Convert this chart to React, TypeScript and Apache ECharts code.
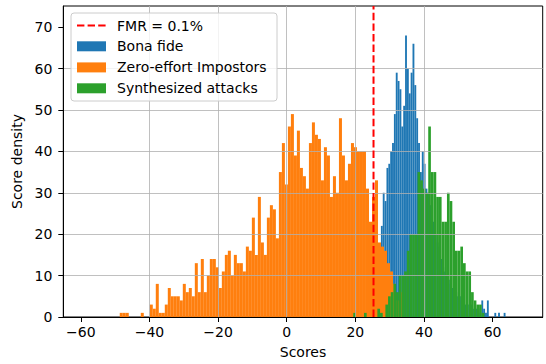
import React, { useEffect, useRef } from "react";
import * as echarts from "echarts";

const FONT = "DejaVu Sans";

// Axes
const xTickValues = [-60, -40, -20, 0, 20, 40, 60];
const yTickValues = [0, 10, 20, 30, 40, 50, 60, 70];
const xRange = [-65.1, 74.6];
const yRange = [0, 75.1];
const xName = "Scores";
const yName = "Score density";

// Threshold
const fmrLabel = "FMR = 0.1%";
const fmrThreshold = 25.3;

// Series
const seriesNames = ["Bona fide", "Zero-effort Impostors", "Synthesized attacks"];
const seriesColors = ["#1f77b4", "#ff7f0e", "#2ca02c"];

const bonaFideBinStart = 27.45;
const bonaFideBinWidth = 0.542;
const bonaFide = [
  22, 30, 28, 36, 37, 40, 42, 49, 59, 57,
  55, 46, 51, 68, 60, 54, 59, 66, 56, 48,
  42, 35, 40, 37, 31, 30, 27, 25, 23, 20,
  18, 17, 14, 12, 11, 10, 9, 8, 7, 7,
  6, 5, 5, 4, 4, 3, 3, 3, 3, 2,
  2, 2, 2, 1, 4, 2, 1, 4, 0, 0,
  0, 1, 0, 1, 0, 0, 1,
];

const impostorBinStart = -48.65;
const impostorBinWidth = 0.875;
const impostors = [
  1, 1, 1, 0, 0, 0, 0, 1, 0, 0,
  3, 2, 8, 1, 1, 3, 7, 5, 5, 5,
  4, 8, 6, 7, 5, 13, 6, 14, 6, 10,
  14, 14, 12, 7, 11, 15, 16, 10, 15, 13,
  13, 11, 17, 16, 24, 15, 29, 18, 15, 24,
  27, 26, 19, 35, 42, 32, 46, 49, 39, 45,
  36, 34, 31, 42, 47, 44, 43, 33, 41, 39,
  29, 34, 30, 48, 39, 33, 37, 42, 41, 40,
  40, 40, 31, 23, 29, 33, 18, 17, 16, 13,
  11, 8, 4, 6,
];

const synthBinStart = 19.4;
const synthBinWidth = 0.78;
const synthesized = [
  1, 0, 0, 0, 1, 0, 0, 0, 0, 2,
  1, 0, 3, 5, 6, 8, 6, 10, 10, 11,
  16, 20, 20, 20, 35, 33, 31, 30, 46, 35,
  35, 29, 29, 23, 23, 30, 28, 23, 16, 16,
  17, 13, 11, 11, 6, 4, 3, 3, 1,
];

function toBins(start: number, width: number, heights: number[]) {
  return heights.map((h, i) => [start + i * width, start + (i + 1) * width, h]);
}

const fmtTick = (v: number) => (v < 0 ? "\u2212" + Math.abs(v) : String(v));

export default function App() {
  const ref = useRef<HTMLDivElement>(null);

  useEffect(() => {
    if (!ref.current) return;
    const chart = echarts.init(ref.current, undefined, { renderer: "svg" });

    const histSeries = [
      toBins(bonaFideBinStart, bonaFideBinWidth, bonaFide),
      toBins(impostorBinStart, impostorBinWidth, impostors),
      toBins(synthBinStart, synthBinWidth, synthesized),
    ].map((data, idx) => ({
      type: "custom",
      name: seriesNames[idx],
      data,
      encode: { x: [0, 1], y: 2 },
      z: 2,
      silent: true,
      renderItem: (params: any, api: any) => {
        const a = api.coord([api.value(0), api.value(2)]);
        const b = api.coord([api.value(1), 0]);
        return {
          type: "rect",
          shape: { x: a[0], y: a[1], width: b[0] - a[0], height: b[1] - a[1] },
          style: { fill: seriesColors[idx] },
        };
      },
    }));

    const legendRows = [25.5, 46.3, 67.4, 88.3];
    const legendGraphics: any[] = [
      {
        type: "rect",
        z: 50,
        shape: { x: 71, y: 13, width: 206, height: 88, r: 3 },
        style: { fill: "rgba(255,255,255,0.8)", stroke: "#cccccc", lineWidth: 1 },
      },
      {
        type: "line",
        z: 51,
        shape: { x1: 77, y1: legendRows[0], x2: 106, y2: legendRows[0] },
        style: { stroke: "#ff0000", lineWidth: 2, lineDash: [7.4, 3.2] },
      },
      {
        type: "text",
        z: 51,
        x: 117,
        y: legendRows[0],
        style: { text: fmrLabel, fontSize: 14, fontFamily: FONT, fill: "#000", verticalAlign: "middle", align: "left" },
      },
    ];
    seriesNames.forEach((n, i) => {
      legendGraphics.push({
        type: "rect",
        z: 51,
        shape: { x: 77, y: legendRows[i + 1] - 5, width: 29, height: 10 },
        style: { fill: seriesColors[i] },
      });
      legendGraphics.push({
        type: "text",
        z: 51,
        x: 117,
        y: legendRows[i + 1],
        style: { text: n, fontSize: 14, fontFamily: FONT, fill: "#000", verticalAlign: "middle", align: "left" },
      });
    });

    const option: any = {
      animation: false,
      grid: {
        left: 63.3,
        right: 3.3,
        top: 6,
        bottom: 46.3,
        show: true,
        borderColor: "#000",
        borderWidth: 1,
        backgroundColor: "transparent",
      },
      xAxis: {
        type: "value",
        min: xRange[0],
        max: xRange[1],
        splitNumber: 7,
        minInterval: 20,
        maxInterval: 20,
        z: 3,
        name: xName,
        nameLocation: "middle",
        nameGap: 28,
        nameTextStyle: { fontSize: 14, fontFamily: FONT, color: "#000" },
        axisLine: { show: true, onZero: false, lineStyle: { color: "#000", width: 1 } },
        axisTick: { show: true, inside: false, length: 5, customValues: xTickValues, lineStyle: { color: "#000", width: 1 } },
        axisLabel: {
          customValues: xTickValues,
          formatter: fmtTick,
          fontSize: 14,
          fontFamily: FONT,
          color: "#000",
          margin: 8,
        },
        splitLine: { show: true, showMinLine: false, showMaxLine: false, lineStyle: { color: "#b0b0b0", width: 0.8 } },
      },
      yAxis: {
        type: "value",
        min: yRange[0],
        max: yRange[1],
        interval: 10,
        z: 3,
        name: yName,
        nameLocation: "middle",
        nameGap: 28,
        nameTextStyle: { fontSize: 14, fontFamily: FONT, color: "#000" },
        axisLine: { show: true, onZero: false, lineStyle: { color: "#000", width: 1 } },
        axisTick: { show: true, inside: false, length: 5, customValues: yTickValues, lineStyle: { color: "#000", width: 1 } },
        axisLabel: {
          customValues: yTickValues,
          fontSize: 14,
          fontFamily: FONT,
          color: "#000",
          margin: 11,
        },
        splitLine: { show: true, showMinLine: false, showMaxLine: false, lineStyle: { color: "#b0b0b0", width: 0.8 } },
      },
      series: [
        ...histSeries,
        {
          type: "line",
          name: fmrLabel,
          data: [
            [fmrThreshold, yRange[0]],
            [fmrThreshold, yRange[1]],
          ],
          symbol: "none",
          showSymbol: false,
          silent: true,
          z: 10,
          lineStyle: { color: "#ff0000", width: 2, type: [7.4, 3.2] },
        },
      ],
      graphic: legendGraphics,
    };

    chart.setOption(option);
    return () => chart.dispose();
  }, []);

  return (
    <div
      ref={ref}
      style={{ position: "fixed", left: 0, top: 0, width: 546, height: 364, background: "#fff" }}
    />
  );
}
